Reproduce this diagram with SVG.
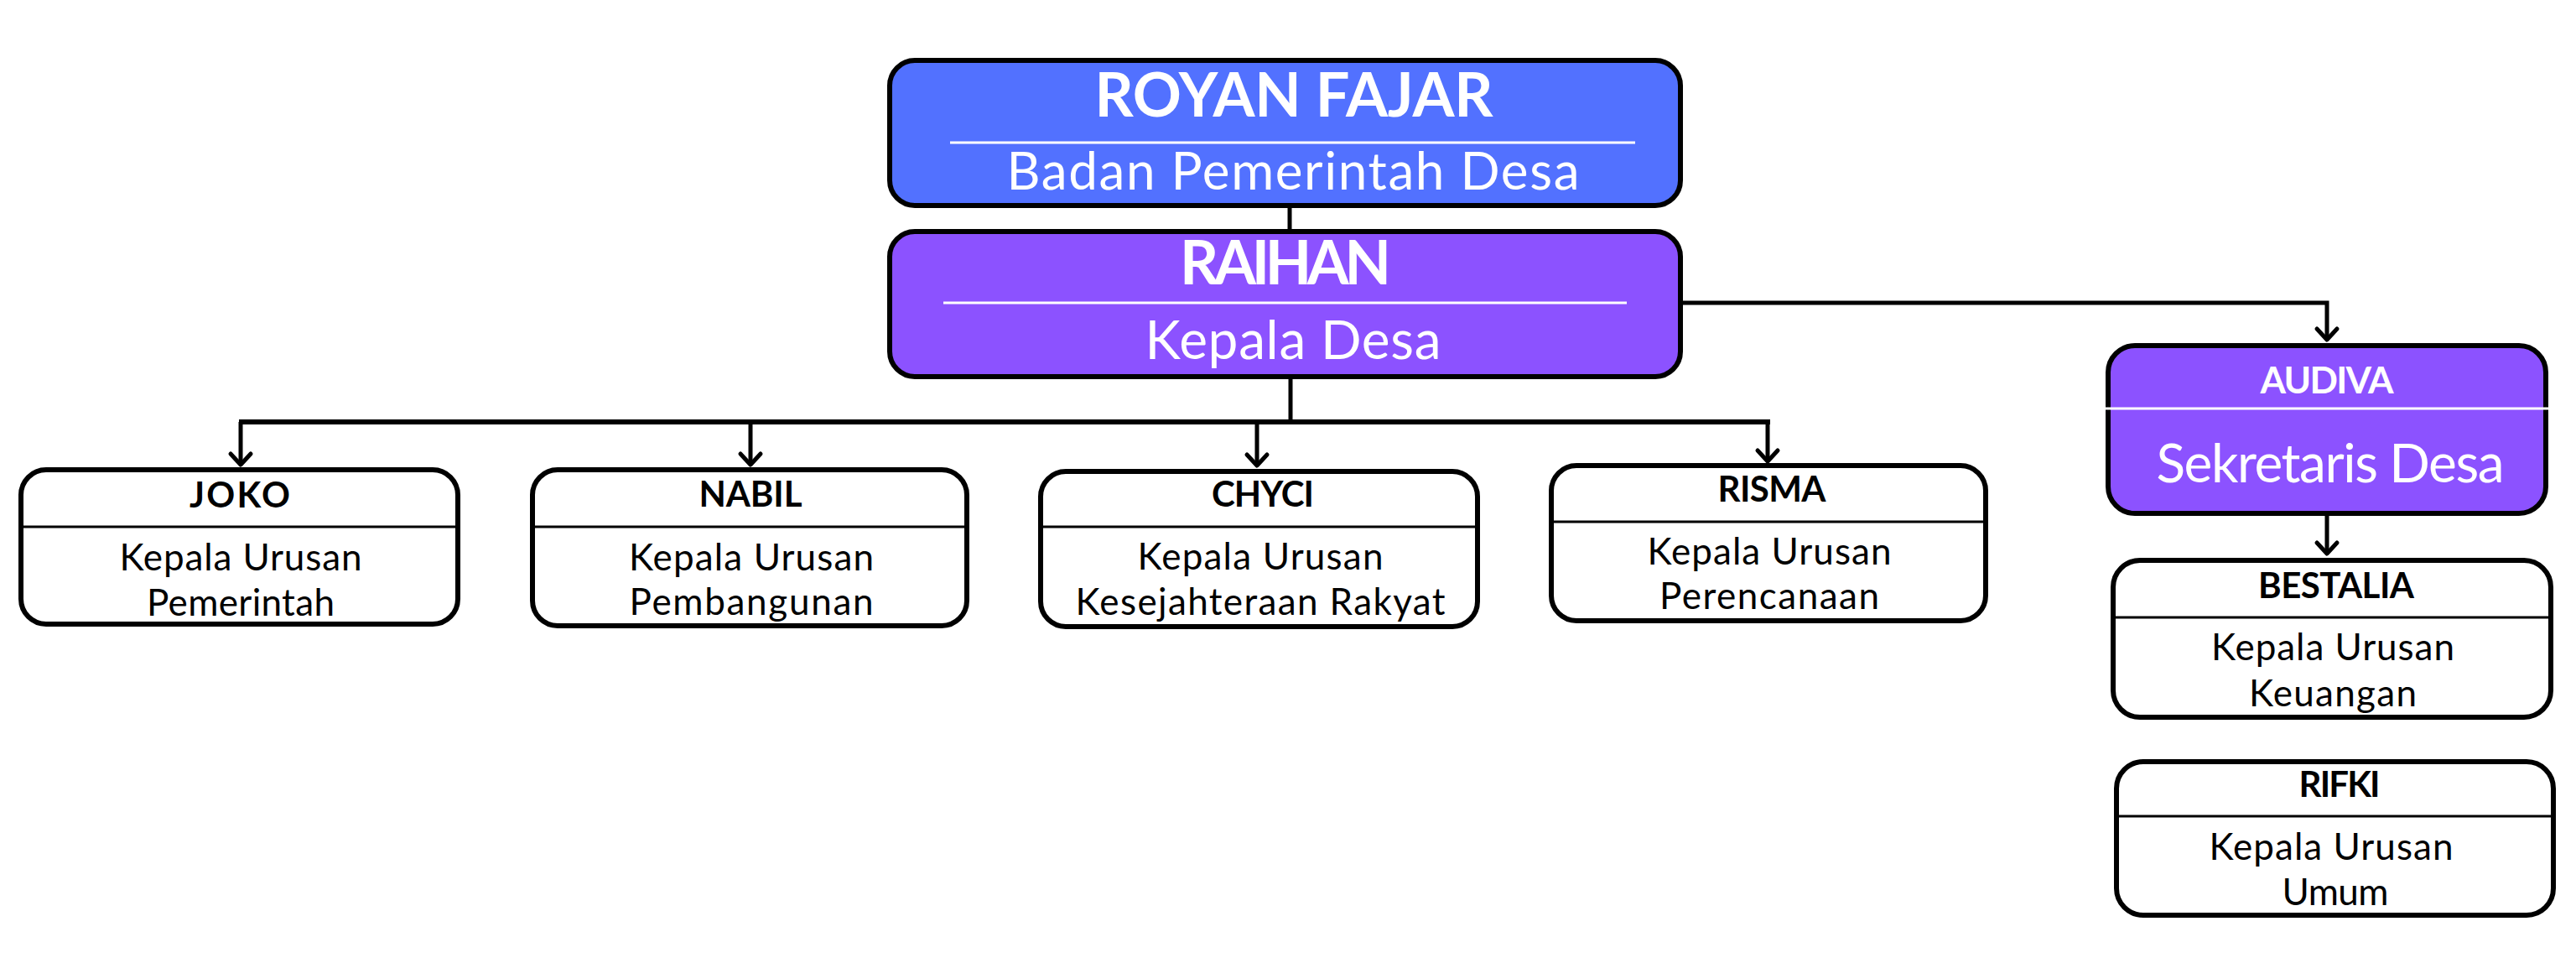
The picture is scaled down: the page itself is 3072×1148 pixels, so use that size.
<svg xmlns="http://www.w3.org/2000/svg" width="3072" height="1148" viewBox="0 0 3072 1148">
<style>
.box{stroke:#000;stroke-width:6;}
.w{fill:#fff;}
.blue{fill:#5271FF;}
.purple{fill:#8C52FF;}
.sepw{stroke:#fff;stroke-width:3;}
.sepb{stroke:#000;stroke-width:3;}
.name{font-family:Lato,"Liberation Sans",sans-serif;font-weight:700;font-size:42px;fill:#000;text-anchor:middle;}
.desc{font-family:Lato,"Liberation Sans",sans-serif;font-weight:400;font-size:44px;fill:#000;text-anchor:middle;}
.bigname{font-family:Lato,"Liberation Sans",sans-serif;font-weight:700;font-size:72px;fill:#fff;text-anchor:middle;}
.bigdesc{font-family:Lato,"Liberation Sans",sans-serif;font-weight:400;font-size:62px;fill:#fff;text-anchor:middle;}
.conn{fill:none;stroke:#000;stroke-width:5;stroke-linejoin:miter;}
.arr{fill:none;stroke:#000;stroke-width:5;stroke-linecap:round;stroke-linejoin:round;}
</style>
<rect width="3072" height="1148" fill="#fff"/>
<g id="connectors">
<line class="conn" x1="1538" y1="248" x2="1538" y2="273"/>
<path class="conn" d="M2007 361 H2775 V403"/>
<path class="arr" d="M2763 392 L2775 405 L2787 392"/>
<line class="conn" x1="1539" y1="452" x2="1539" y2="503"/>
<line class="conn" x1="285" y1="503" x2="2111" y2="503" style="stroke-width:6"/>
<path class="conn" d="M287 503 V552"/>
<path class="arr" d="M275 541 L287 554 L299 541"/>
<path class="conn" d="M895 503 V552"/>
<path class="arr" d="M883 541 L895 554 L907 541"/>
<path class="conn" d="M1499 503 V553"/>
<path class="arr" d="M1487 542 L1499 555 L1511 542"/>
<path class="conn" d="M2108 503 V548"/>
<path class="arr" d="M2096 537 L2108 550 L2120 537"/>
<line class="conn" x1="2775" y1="615" x2="2775" y2="658"/>
<path class="arr" d="M2763 647 L2775 660 L2787 647"/>
</g>
<g id="royan">
<rect class="box blue" x="1061" y="72" width="943" height="173" rx="30"/>
<line class="sepw" x1="1133" y1="170" x2="1950" y2="170"/>
<text class="bigname" x="1543" y="139" textLength="475">ROYAN FAJAR</text>
<text class="bigdesc" x="1542" y="226" textLength="683">Badan Pemerintah Desa</text>
</g>
<g id="raihan">
<rect class="box purple" x="1061" y="276" width="943" height="173" rx="30"/>
<line class="sepw" x1="1125" y1="361" x2="1940" y2="361"/>
<text class="bigname" x="1533" y="339" textLength="252">RAIHAN</text>
<text class="bigdesc" x="1542" y="428" textLength="353" style="font-size:64px">Kepala Desa</text>
</g>
<g id="audiva">
<rect class="box purple" x="2514" y="412" width="522" height="200" rx="32"/>
<line class="sepw" x1="2511" y1="487" x2="3039" y2="487"/>
<text class="bigname" x="2775" y="469" textLength="159" style="font-size:44px">AUDIVA</text>
<text class="bigdesc" x="2779" y="575" textLength="415" style="font-size:64px">Sekretaris Desa</text>
</g>
<g id="joko">
<rect class="box w" x="25" y="560" width="521" height="184" rx="30"/>
<line class="sepb" x1="22" y1="628" x2="549" y2="628"/>
<text class="name" x="286" y="605" textLength="120">JOKO</text>
<text class="desc" x="287" y="680" textLength="289">Kepala Urusan</text>
<text class="desc" x="287" y="734" textLength="224">Pemerintah</text>
</g>
<g id="nabil">
<rect class="box w" x="635" y="560" width="518" height="186" rx="30"/>
<line class="sepb" x1="632" y1="628" x2="1156" y2="628"/>
<text class="name" x="895" y="604" textLength="123">NABIL</text>
<text class="desc" x="896" y="680" textLength="292">Kepala Urusan</text>
<text class="desc" x="896" y="733" textLength="291">Pembangunan</text>
</g>
<g id="chyci">
<rect class="box w" x="1241" y="562" width="521" height="185" rx="30"/>
<line class="sepb" x1="1238" y1="628" x2="1765" y2="628"/>
<text class="name" x="1506" y="604" textLength="122">CHYCI</text>
<text class="desc" x="1503" y="679" textLength="293">Kepala Urusan</text>
<text class="desc" x="1503" y="733" textLength="441">Kesejahteraan Rakyat</text>
</g>
<g id="risma">
<rect class="box w" x="1850" y="555" width="518" height="185" rx="30"/>
<line class="sepb" x1="1847" y1="622" x2="2371" y2="622"/>
<text class="name" x="2113" y="598" textLength="129">RISMA</text>
<text class="desc" x="2110" y="673" textLength="291">Kepala Urusan</text>
<text class="desc" x="2110" y="726" textLength="262">Perencanaan</text>
</g>
<g id="bestalia">
<rect class="box w" x="2520" y="668" width="522" height="187" rx="32"/>
<line class="sepb" x1="2517" y1="736" x2="3045" y2="736"/>
<text class="name" x="2786" y="713" textLength="186">BESTALIA</text>
<text class="desc" x="2782" y="787" textLength="290">Kepala Urusan</text>
<text class="desc" x="2782" y="842" textLength="200">Keuangan</text>
</g>
<g id="rifki">
<rect class="box w" x="2524" y="908" width="521" height="183" rx="32"/>
<line class="sepb" x1="2521" y1="973" x2="3048" y2="973"/>
<text class="name" x="2790" y="950" textLength="97">RIFKI</text>
<text class="desc" x="2780" y="1025" textLength="291">Kepala Urusan</text>
<text class="desc" x="2785" y="1079" textLength="127">Umum</text>
</g>
</svg>
